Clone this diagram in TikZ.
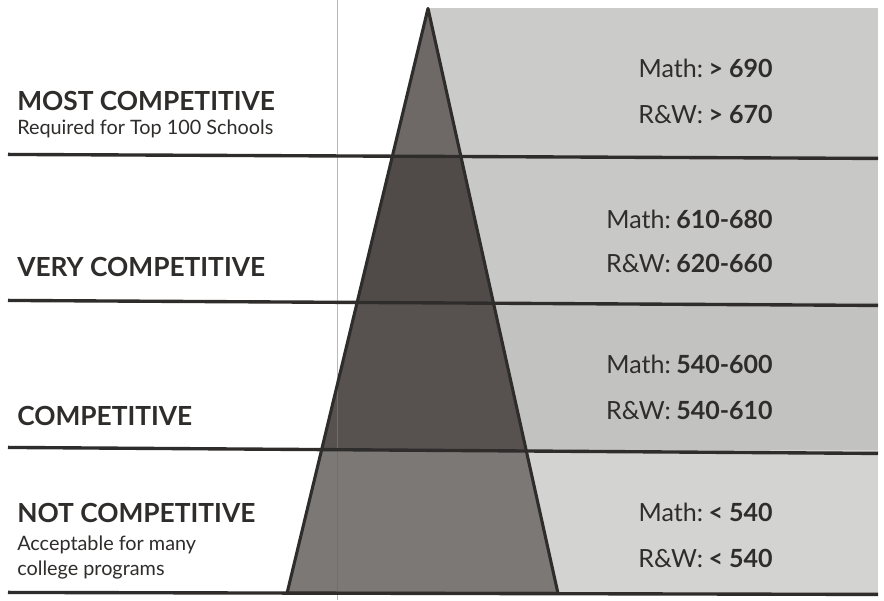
\documentclass[tikz,border=0pt]{standalone}
\usepackage{fontspec}
\setmainfont{Lato}
\usepackage{xcolor}
\definecolor{inkGrey}{HTML}{2F2D2C}
\definecolor{paneA}{HTML}{CBCBCA}
\definecolor{paneB}{HTML}{C8C8C7}
\definecolor{paneC}{HTML}{C2C2C1}
\definecolor{paneD}{HTML}{D3D3D2}
\definecolor{peakA}{HTML}{6E6966}
\definecolor{peakB}{HTML}{504B49}
\definecolor{peakC}{HTML}{575250}
\definecolor{peakD}{HTML}{7C7876}
\definecolor{foldGrey}{HTML}{B8B8B8}

\tikzset{
  tierTitle/.style={anchor=base west, inner sep=0pt, text=inkGrey, font=\fontsize{18.7}{21}\selectfont\bfseries},
  tierNote/.style={anchor=base west, inner sep=0pt, text=inkGrey, font=\fontsize{14.1}{17}\selectfont},
  score/.style={anchor=base east, inner sep=0pt, text=inkGrey, font=\fontsize{17.8}{21}\selectfont},
  rule/.style={draw=inkGrey, line width=2.4pt}
}
\newcommand{\gap}{\hspace{0.22em}}

\begin{document}
\begin{tikzpicture}[x=0.025cm, y=-0.025cm]
  \filldraw[fill=white, draw=none] (0,0) rectangle (884,600);
  % grey panel behind the scores
  \fill[paneA] (430,8) rectangle (878,155);
  \fill[paneB] (430,155) rectangle (878,302);
  \fill[paneC] (430,302) rectangle (878,450);
  \fill[paneD] (430,450) rectangle (878,593);
  \draw[foldGrey, line width=0.6pt] (337,0) -- (337,600);

  % pyramid
  \coordinate (apex) at (428,8);
  \coordinate (baseL) at (287,593);
  \coordinate (baseR) at (558,593);
  \begin{scope}
    \clip (apex) -- (baseL) -- (baseR) -- cycle;
    \fill[peakA] (280,0) rectangle (570,155);
    \fill[peakB] (280,155) rectangle (570,302);
    \fill[peakC] (280,302) rectangle (570,450);
    \fill[peakD] (280,450) rectangle (570,600);
    \draw[foldGrey!60!black, line width=0.6pt] (337,0) -- (337,600);
  \end{scope}
  \draw[inkGrey, line width=2.2pt, line join=round] (apex) -- (baseL) -- (baseR) -- cycle;

  % tier rules
  \draw[rule] (8,154) -- (878,158);
  \draw[rule] (8,300) -- (878,305);
  \draw[rule] (8,447) -- (878,453);
  \draw[rule] (8,592) -- (878,594);

  % tier names
  \node[tierTitle] (most) at (17,110) {MOST COMPETITIVE};
  \node[tierNote] (mostNote) at (17,134) {Required for Top 100 Schools};
  \node[tierTitle] (very) at (17,276) {VERY COMPETITIVE};
  \node[tierTitle] (comp) at (17,425) {COMPETITIVE};
  \node[tierTitle] (notComp) at (17,522) {NOT COMPETITIVE};
  \node[tierNote] (notNoteA) at (17,550) {Acceptable for many};
  \node[tierNote] (notNoteB) at (17,575) {college programs};

  % score ranges
  \node[score] (mostMath) at (773,77) {Math:\gap\textbf{> 690}};
  \node[score] (mostRW) at (773,123) {R\&W:\gap\textbf{> 670}};
  \node[score] (veryMath) at (773,228) {Math:\gap\textbf{610-680}};
  \node[score] (veryRW) at (773,272) {R\&W:\gap\textbf{620-660}};
  \node[score] (compMath) at (773,373) {Math:\gap\textbf{540-600}};
  \node[score] (compRW) at (773,419) {R\&W:\gap\textbf{540-610}};
  \node[score] (notMath) at (773,521) {Math:\gap\textbf{< 540}};
  \node[score] (notRW) at (773,567) {R\&W:\gap\textbf{< 540}};
\end{tikzpicture}
\end{document}
